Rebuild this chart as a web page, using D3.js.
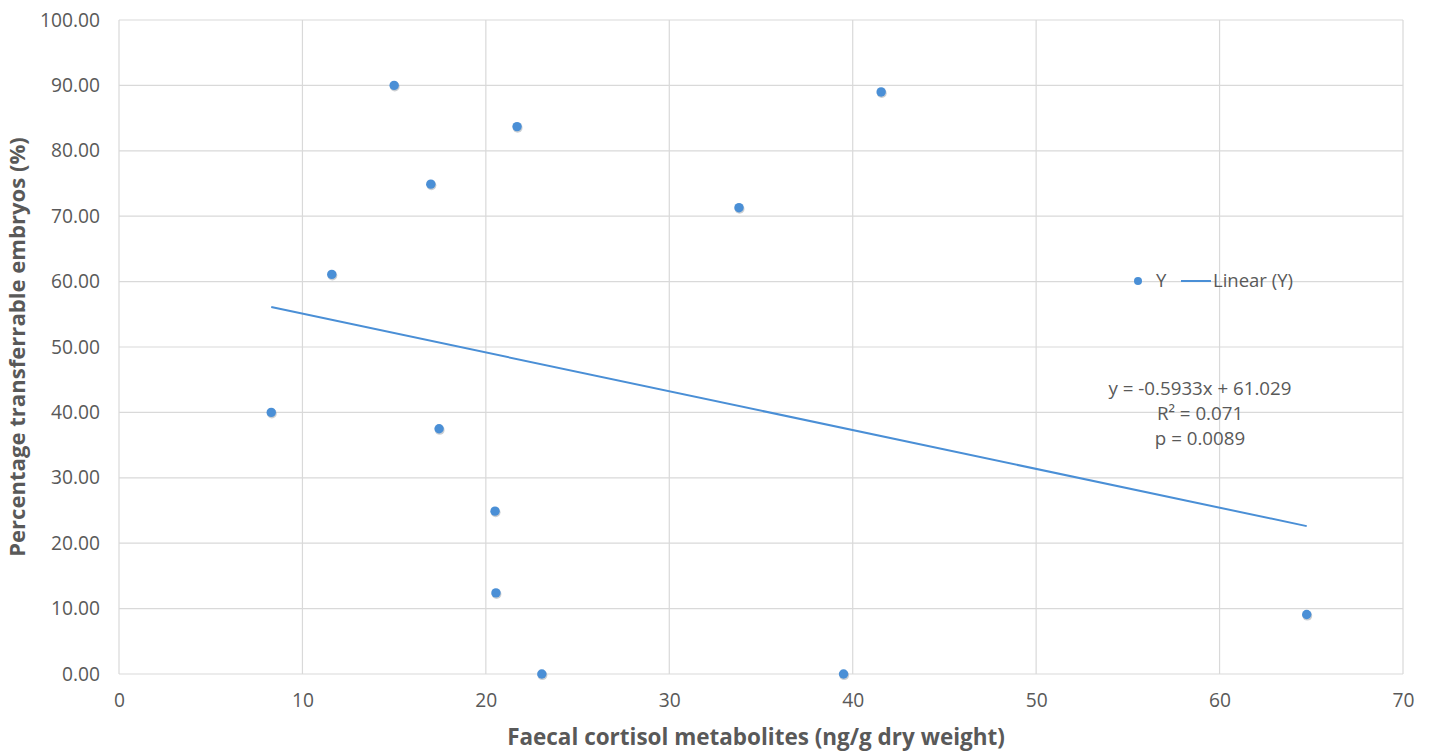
<!DOCTYPE html>
<html><head><meta charset="utf-8">
<script src="https://cdn.jsdelivr.net/npm/d3@7"></script>
<style>body{margin:0;background:#fff}svg{display:block}text{font-family:"Open Sans",sans-serif}</style>
</head><body><svg id="c" width="1429" height="752"></svg>
<script>
const xVals = [8.3, 11.6, 15.0, 17.0, 17.45, 20.5, 20.55, 21.7, 23.05, 33.8, 39.5, 41.55, 64.75];
const yVals = [40.0, 61.1, 90.0, 74.9, 37.5, 24.9, 12.4, 83.7, 0.0, 71.3, 0.0, 89.0, 9.1];
const xTicks = [0, 10, 20, 30, 40, 50, 60, 70];
const yTicks = [0, 10, 20, 30, 40, 50, 60, 70, 80, 90, 100];
const slope = -0.5933, intercept = 61.029;
const eqLines = ["y = -0.5933x + 61.029", "R² = 0.071", "p = 0.0089"];
const xTitle = "Faecal cortisol metabolites (ng/g dry weight)";
const yTitle = "Percentage transferrable embryos (%)";

const svg = d3.select("#c");
const L = 119, R = 1403, T = 20, B = 674;
const x = d3.scaleLinear().domain([0, 70]).range([L, R]);
const y = d3.scaleLinear().domain([0, 100]).range([B, T]);
const grid = "#d9d9d9", txt = "#595959", blue = "#4a8fd6";
const FONT = "'Open Sans',sans-serif";

// measure helper: font size giving target width
function fitSize(str, target, weight) {
  const t = svg.append("text").attr("font-size", 20).attr("font-weight", weight || "normal")
    .style("font-family", FONT).text(str);
  const w = t.node().getComputedTextLength();
  t.remove();
  return 20 * target / w;
}
const tickFS = fitSize("100.00", 60);
const eqFS = fitSize(eqLines[0], 183);
const legFS = fitSize("Linear (Y)", 80);
const xtFS = fitSize(xTitle, 498, "bold");
const ytFS = fitSize(yTitle, 420, "bold");

// gridlines
svg.append("g").selectAll("line").data(yTicks).join("line")
  .attr("x1", L).attr("x2", R).attr("y1", d => y(d)).attr("y2", d => y(d))
  .attr("stroke", grid).attr("stroke-width", 1.2);
svg.append("g").selectAll("line").data(xTicks).join("line")
  .attr("y1", T).attr("y2", B).attr("x1", d => x(d)).attr("x2", d => x(d))
  .attr("stroke", grid).attr("stroke-width", 1.2);

// axes labels via d3 axes
const ya = svg.append("g").attr("transform", `translate(${L},0)`)
  .call(d3.axisLeft(y).tickValues(yTicks).tickFormat(d3.format(".2f")).tickSize(0).tickPadding(19));
const xa = svg.append("g").attr("transform", `translate(0,${B})`)
  .call(d3.axisBottom(x).tickValues(xTicks).tickFormat(d3.format("d")).tickSize(0).tickPadding(19));
[ya, xa].forEach(g => {
  g.select(".domain").remove();
  g.selectAll("text").attr("fill", txt).attr("font-size", tickFS).style("font-family", FONT);
});

// trendline
const xMin = d3.min(xVals), xMax = d3.max(xVals);
svg.append("line")
  .attr("x1", x(xMin)).attr("y1", y(slope * xMin + intercept))
  .attr("x2", x(xMax)).attr("y2", y(slope * xMax + intercept))
  .attr("stroke", blue).attr("stroke-width", 2);

// points
const pts = xVals.map((v, i) => [v, yVals[i]]);
svg.append("g").selectAll("circle").data(pts).join("circle")
  .attr("cx", d => x(d[0]) + 0.6).attr("cy", d => y(d[1]) + 1.2).attr("r", 4.9)
  .attr("fill", "#8a939c").attr("opacity", 0.45);
svg.append("g").selectAll("circle").data(pts).join("circle")
  .attr("cx", d => x(d[0])).attr("cy", d => y(d[1])).attr("r", 4.7)
  .attr("fill", blue);

// legend
svg.append("circle").attr("cx", 1138).attr("cy", 281).attr("r", 4).attr("fill", blue);
svg.append("text").attr("x", 1156).attr("y", 287).attr("fill", txt).attr("font-size", legFS).text("Y");
svg.append("line").attr("x1", 1181).attr("x2", 1211).attr("y1", 281).attr("y2", 281)
  .attr("stroke", blue).attr("stroke-width", 2);
svg.append("text").attr("x", 1213).attr("y", 287).attr("fill", txt).attr("font-size", legFS).text("Linear (Y)");

// equation
svg.append("g").selectAll("text").data(eqLines).join("text")
  .attr("x", 1200).attr("y", (d, i) => 395 + i * 25).attr("text-anchor", "middle")
  .attr("fill", txt).attr("font-size", eqFS).text(d => d);

// titles
svg.append("text").attr("x", 756).attr("y", 745).attr("text-anchor", "middle")
  .attr("fill", txt).attr("font-size", xtFS).attr("font-weight", "bold").text(xTitle);
svg.append("text").attr("transform", "translate(25,347) rotate(-90)").attr("text-anchor", "middle")
  .attr("fill", txt).attr("font-size", ytFS).attr("font-weight", "bold").text(yTitle);
</script></body></html>
